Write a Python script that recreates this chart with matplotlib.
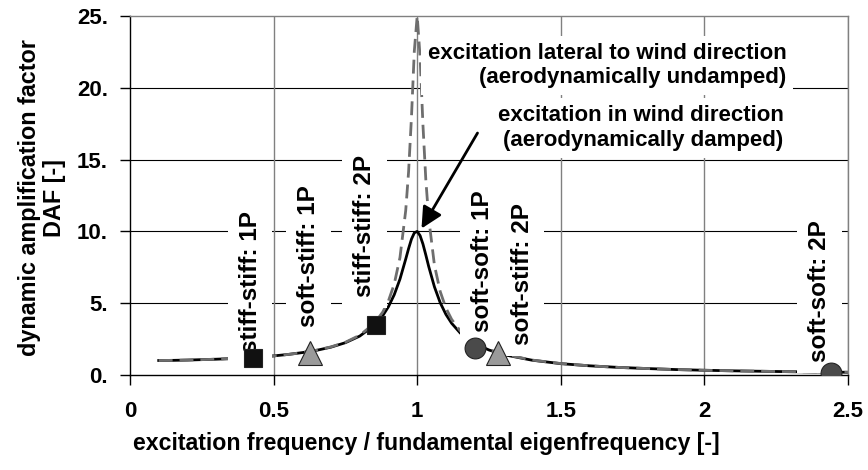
import matplotlib
matplotlib.use("Agg")
import matplotlib.pyplot as plt

plt.rcParams['font.family'] = ['Liberation Sans', 'DejaVu Sans']
plt.rcParams['font.weight'] = 'bold'
plt.rcParams['font.size'] = 16

# ---- data ----
ratio = [0.10, 0.15, 0.20, 0.25, 0.30, 0.35, 0.40, 0.45, 0.50, 0.55, 0.60, 0.65,
         0.70, 0.75, 0.80, 0.85, 0.88, 0.90, 0.92, 0.94, 0.96, 0.97, 0.98, 0.99,
         1.00, 1.01, 1.02, 1.03, 1.04, 1.06, 1.08, 1.10, 1.12, 1.15, 1.20, 1.25,
         1.30, 1.40, 1.50, 1.60, 1.70, 1.80, 1.90, 2.00, 2.10, 2.20, 2.30, 2.40, 2.50]
daf_wind = [1.01, 1.02, 1.04, 1.07, 1.10, 1.14, 1.19, 1.25, 1.33, 1.43, 1.56, 1.72,
            1.94, 2.25, 2.71, 3.45, 4.13, 4.76, 5.59, 6.68, 8.07, 8.80, 9.46, 9.90,
            10.0, 9.71, 9.12, 8.36, 7.56, 6.14, 5.04, 4.22, 3.60, 2.92, 2.19, 1.74,
            1.42, 1.03, 0.79, 0.64, 0.53, 0.45, 0.38, 0.33, 0.29, 0.26, 0.23, 0.21, 0.19]
daf_lateral = [1.01, 1.02, 1.04, 1.07, 1.10, 1.14, 1.19, 1.25, 1.33, 1.43, 1.56, 1.73,
               1.96, 2.28, 2.77, 3.58, 4.38, 5.17, 6.33, 8.18, 11.45, 14.15, 17.94, 22.57,
               25.0, 22.16, 17.42, 13.60, 10.92, 7.65, 5.82, 4.66, 3.87, 3.07, 2.26, 1.77,
               1.45, 1.04, 0.80, 0.64, 0.53, 0.45, 0.38, 0.33, 0.29, 0.26, 0.23, 0.21, 0.19]

design_labels = ['stiff-stiff: 1P', 'soft-stiff: 1P', 'stiff-stiff: 2P',
                 'soft-soft: 1P', 'soft-stiff: 2P', 'soft-soft: 2P']
design_ratio = [0.43, 0.625, 0.855, 1.20, 1.28, 2.44]
design_daf = [1.15, 1.5, 3.45, 1.9, 1.5, 0.15]

x_ticks = [0, 0.5, 1, 1.5, 2, 2.5]
x_ticklabels = ['0', '0.5', '1', '1.5', '2', '2.5']
y_ticks = [0, 5, 10, 15, 20, 25]
y_ticklabels = ['0.', '5.', '10.', '15.', '20.', '25.']

# ---- styles / positions ----
marker_styles = [dict(marker='s', color='#111111', ms=13),
                 dict(marker='^', color='#9a9a9a', ms=17),
                 dict(marker='s', color='#111111', ms=13),
                 dict(marker='o', color='#4a4a4a', ms=15),
                 dict(marker='^', color='#9a9a9a', ms=17),
                 dict(marker='o', color='#4a4a4a', ms=15)]
label_pos_x = [0.418, 0.62, 0.818, 1.226, 1.365, 2.40]
label_pos_y = [1.5, 3.35, 5.4, 3.0, 2.1, 0.9]

fig = plt.figure(figsize=(8.68, 4.70), dpi=100)
ax = fig.add_axes([130/868, 1-375/470, 718/868, 359/470])

ax.set_xlim(0, 2.5)
ax.set_ylim(0, 25)

# grid
for yv in y_ticks[1:-1]:
    ax.axhline(yv, color='black', lw=0.8, zorder=0.5)
for xv in x_ticks[1:]:
    ax.axvline(xv, color='#808080', lw=1.0, zorder=0.5)

for s in ['top', 'right']:
    ax.spines[s].set_color('#808080')
    ax.spines[s].set_linewidth(1.0)
for s in ['left', 'bottom']:
    ax.spines[s].set_color('black')
    ax.spines[s].set_linewidth(1.0)

ax.plot(ratio, daf_wind, color='black', lw=2.0, zorder=2)
ax.plot(ratio, daf_lateral, color='#6e6e6e', lw=2.0, dashes=(5, 2.5), zorder=2.1)

for lab, lx, ly in zip(design_labels, label_pos_x, label_pos_y):
    ax.text(lx, ly, lab, rotation=90, ha='center', va='bottom', fontweight='bold',
            fontsize=17.5,
            bbox=dict(boxstyle='square,pad=0.45', fc='white', ec='none'), zorder=3)

for x, y, st in zip(design_ratio, design_daf, marker_styles):
    ax.plot([x], [y], ls='none', marker=st['marker'], ms=st['ms'],
            mfc=st['color'], mec='#222222', mew=0.8, zorder=4)

ax.text(2.285, 21.55, 'excitation lateral to wind direction\n(aerodynamically undamped)',
        ha='right', va='center', multialignment='right', fontweight='bold',
        linespacing=1.2,
        bbox=dict(boxstyle='square,pad=0.3', fc='white', ec='none'), zorder=3)
ax.text(2.275, 17.2, 'excitation in wind direction\n(aerodynamically damped)',
        ha='right', va='center', multialignment='right', fontweight='bold',
        linespacing=1.2,
        bbox=dict(boxstyle='square,pad=0.35', fc='white', ec='none'), zorder=3)

ax.annotate('', xy=(1.015, 10.2), xytext=(1.21, 16.85),
            arrowprops=dict(arrowstyle='-|>,head_length=0.8,head_width=0.4',
                            color='black', lw=2.0, shrinkA=0, shrinkB=0), zorder=5)

ax.set_xticks(x_ticks)
ax.set_xticklabels(x_ticklabels, fontweight='bold')
ax.set_yticks(y_ticks)
ax.set_yticklabels(y_ticklabels, fontweight='bold')
ax.tick_params(axis='x', direction='out', length=7, width=1, pad=12)
ax.tick_params(axis='y', direction='out', length=7, width=1, pad=9)

ax.set_xlabel('excitation frequency / fundamental eigenfrequency [-]', fontweight='bold',
              fontsize=16.7)
ax.xaxis.set_label_coords(0.412, -0.159)
ax.set_ylabel('dynamic amplification factor\nDAF [-]', fontweight='bold', fontsize=16.8,
              multialignment='center', linespacing=1.1)
ax.yaxis.set_label_coords(-0.089, 0.493)

fig.savefig('out.png', dpi=100)
